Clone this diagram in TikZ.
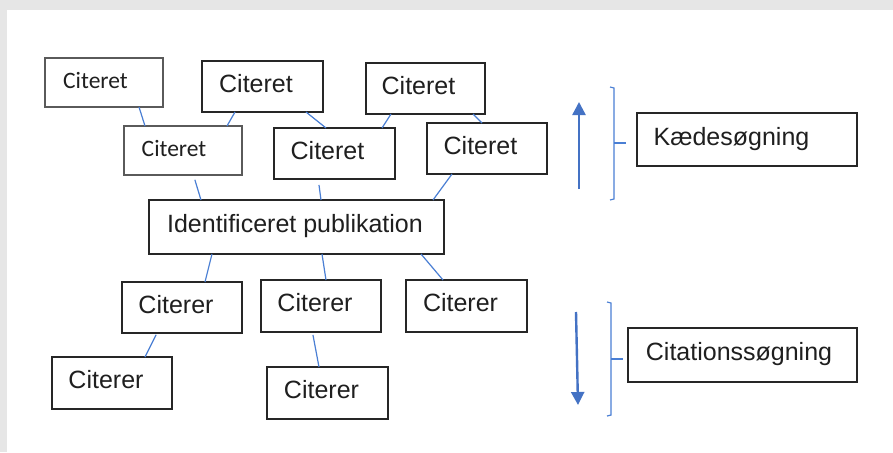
\documentclass[tikz,border=0pt]{standalone}
\usepackage{fontspec}
\setmainfont{Liberation Sans}
\newfontfamily\calfont{Carlito}
\usetikzlibrary{arrows.meta}
\definecolor{bgray}{HTML}{E6E6E6}
\definecolor{lnblue}{HTML}{4A7FD4}
\definecolor{arblue}{HTML}{4472C4}
\definecolor{boxdark}{HTML}{262626}
\definecolor{boxgray}{HTML}{5A5A5A}
\newcommand{\shl}[2]{\hspace*{-#1pt}#2\hspace*{#1pt}}
\begin{document}
\begin{tikzpicture}[x=1pt,y=-1pt,
 box/.style={draw=boxdark, line width=1.4pt, inner sep=0pt, outer sep=0pt,
   font=\fontsize{25}{30}\selectfont, text height=18pt, text depth=6.5pt, text=black!88},
 lightbox/.style={box, draw=boxgray, line width=1.2pt,
   font=\calfont\fontsize{23.5}{28}\selectfont, text height=15pt, text depth=3pt},
 link/.style={draw=lnblue, line width=1.2pt},
 dirarrow/.style={draw=arblue, line width=2.4pt, -{Triangle[width=13pt,length=13pt]}},
 brack/.style={draw=lnblue, line width=1.2pt}
]
\fill[bgray] (0,0) rectangle (893,452);
\fill[white] (7,10) rectangle (893,452);
\useasboundingbox (0,0) rectangle (893,452);

% cited (upper) boxes
\node[lightbox, minimum width=118pt, minimum height=49pt] (A) at (104,82.5) {\shl{8.5}{Citeret}};
\node[box, minimum width=121pt, minimum height=51pt] (B) at (262.5,86.5) {\shl{6.5}{Citeret}};
\node[box, minimum width=119pt, minimum height=51pt] (C) at (425.5,88.5) {\shl{7}{Citeret}};
\node[lightbox, minimum width=118pt, minimum height=49pt] (D) at (183,150.5) {\shl{9}{Citeret}};
\node[box, minimum width=121pt, minimum height=51pt] (E) at (334.5,153.5) {\shl{7}{Citeret}};
\node[box, minimum width=120pt, minimum height=51pt] (F) at (487,148.5) {\shl{6.5}{Citeret}};

% central
\node[box, minimum width=295pt, minimum height=54pt] (P) at (296.5,227) {\shl{1.5}{Identificeret publikation}};

% citing (lower) boxes
\node[box, minimum width=120pt, minimum height=51pt] (G) at (182,307.5) {\shl{6}{Citerer}};
\node[box, minimum width=120pt, minimum height=52pt] (H) at (321,306) {\shl{6}{Citerer}};
\node[box, minimum width=121pt, minimum height=52pt] (I) at (466.5,306) {\shl{6}{Citerer}};
\node[box, minimum width=120pt, minimum height=52pt] (J) at (112,383) {\shl{6}{Citerer}};
\node[box, minimum width=121pt, minimum height=52pt] (K) at (327.5,393) {\shl{6}{Citerer}};

% legend boxes
\node[box, minimum width=220pt, minimum height=53pt] (Kd) at (747,139.5) {\shl{15.5}{Kædesøgning}};
\node[box, minimum width=229pt, minimum height=54pt] (Ct) at (742.5,355) {\shl{3.5}{Citationssøgning}};

% connectors
\draw[link] ([xshift=35pt]A.south) -- ([xshift=-38pt]D.north);
\draw[link] ([xshift=-27.5pt]B.south) -- ([xshift=44pt]D.north);
\draw[link] ([xshift=43.5pt]B.south) -- ([xshift=-8.5pt]E.north);
\draw[link] ([xshift=-34.5pt]C.south) -- ([xshift=47.5pt]E.north);
\draw[link] ([xshift=47.5pt]C.south) -- ([xshift=-5pt]F.north);
\draw[link, shorten <=5pt] ([xshift=10.4pt]D.south) -- ([xshift=-95.5pt]P.north);
\draw[link, shorten <=6pt] ([xshift=-16.3pt]E.south) -- ([xshift=24.5pt]P.north);
\draw[link] ([xshift=-35pt]F.south) -- ([xshift=136.5pt]P.north);
\draw[link] ([xshift=-84.5pt]P.south) -- ([xshift=23pt]G.north);
\draw[link] ([xshift=25.5pt]P.south) -- ([xshift=5pt]H.north);
\draw[link] ([xshift=124.5pt]P.south) -- ([xshift=-23.5pt]I.north);
\draw[link, shorten <=2pt] ([xshift=-25pt]G.south) -- ([xshift=33pt]J.north);
\draw[link, shorten <=3pt] ([xshift=-8.6pt]H.south) -- ([xshift=-8.5pt]K.north);

% direction arrows
\coordinate (upS) at (579,189);
\coordinate (upE) at (579,102);
\coordinate (dnS) at (576,312);
\coordinate (dnE) at (578,405);
\draw[dirarrow] (upS) -- (upE);
\draw[dirarrow] (dnS) -- (dnE);

% brackets
\coordinate (b1t) at (610,87);
\coordinate (b1b) at (610,200);
\coordinate (b1m) at (614,143);
\coordinate (b1e) at (626,143);
\draw[brack] (b1t) -- ++(4,1) -- ++(0,111) -- (b1b);
\draw[brack] (b1m) -- (b1e);
\coordinate (b2t) at (607,302);
\coordinate (b2b) at (607,416);
\coordinate (b2m) at (611,359);
\coordinate (b2e) at (623,359);
\draw[brack] (b2t) -- ++(4,1) -- ++(0,112) -- (b2b);
\draw[brack] (b2m) -- (b2e);
\end{tikzpicture}
\end{document}
